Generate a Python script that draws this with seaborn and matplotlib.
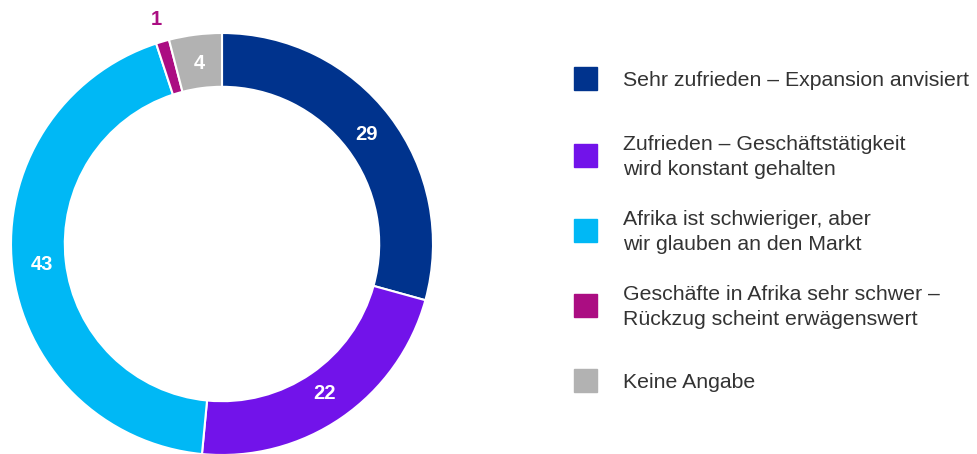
import numpy as np
import seaborn as sns
import matplotlib.pyplot as plt
from matplotlib.patches import Rectangle

sns.set_theme(style="white")
plt.rcParams['font.family'] = ['Liberation Sans', 'DejaVu Sans']

# data
categories = [
    "Sehr zufrieden – Expansion anvisiert",
    "Zufrieden – Geschäftstätigkeit\nwird konstant gehalten",
    "Afrika ist schwieriger, aber\nwir glauben an den Markt",
    "Geschäfte in Afrika sehr schwer –\nRückzug scheint erwägenswert",
    "Keine Angabe",
]
values = [29, 22, 43, 1, 4]
colors = ["#00338D", "#7213EA", "#00B8F5", "#AB0D82", "#B2B2B2"]

W, H = 977, 454
fig = plt.figure(figsize=(W / 100, H / 100), dpi=100)

# donut, centre at (222, 244) px, outer radius 211 px
cx, cy, R = 222, 244, 211
ax = fig.add_axes([(cx - R) / W, (H - cy - R) / H, 2 * R / W, 2 * R / H])
wedges, _ = ax.pie(values, colors=colors, startangle=90, counterclock=False,
                   radius=1.0, wedgeprops=dict(width=0.255, edgecolor="white", linewidth=1.5))
ax.set_xlim(-1, 1)
ax.set_ylim(-1, 1)
ax.set_aspect("equal")
ax.axis("off")

for w, v in zip(wedges, values):
    ang = np.deg2rad((w.theta1 + w.theta2) / 2)
    if v < 3:
        r, col = 1.11, w.get_facecolor()
    else:
        r, col = 0.86, "white"
    ax.text(r * np.cos(ang), r * np.sin(ang), str(v), ha="center", va="center",
            fontsize=14.5, fontweight="bold", color=col, clip_on=False)

# legend drawn by hand (rows are unevenly spaced in the original)
lg = fig.add_axes([0, 0, 1, 1])
lg.set_xlim(0, W)
lg.set_ylim(H, 0)
lg.axis("off")
row_y = [78, 155, 230, 305, 380]
for y, lab, c in zip(row_y, categories, colors):
    lg.add_patch(Rectangle((574, y - 11.5), 23, 23, color=c))
    lg.text(623, y + 2, lab, ha="left", va="center", fontsize=15.3,
            color="#333333", linespacing=1.45)

fig.savefig("out.png", dpi=100)
